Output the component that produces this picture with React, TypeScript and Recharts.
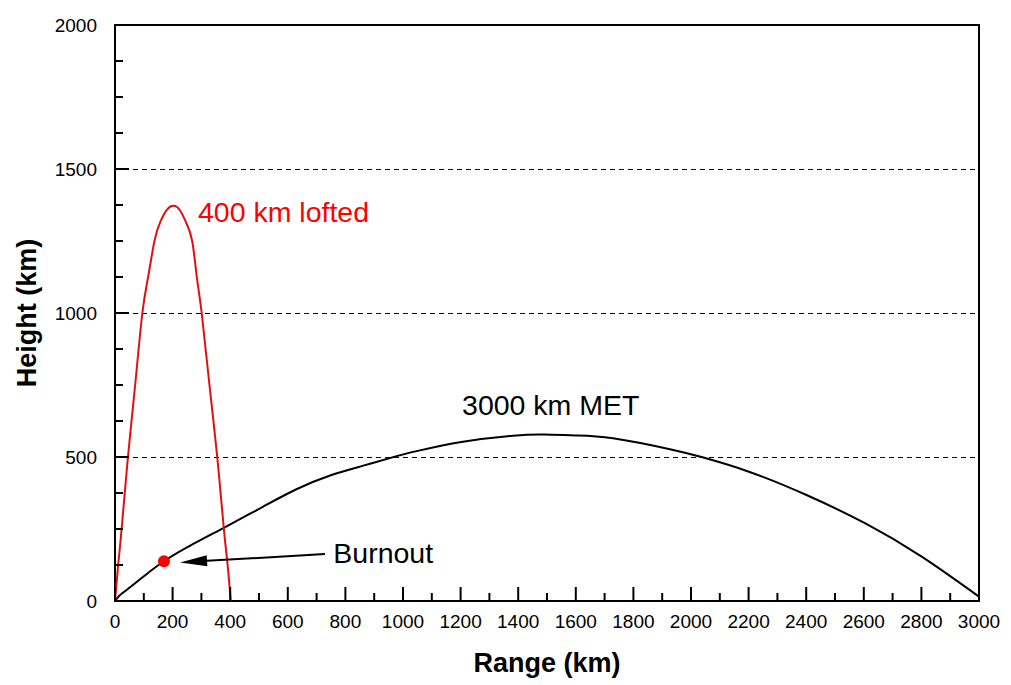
import React from 'react';
import { LineChart, Line, XAxis, YAxis, ReferenceLine, ReferenceArea, ReferenceDot } from 'recharts';

// tick values (minor + major)
const xTicks = [0, 100, 200, 300, 400, 500, 600, 700, 800, 900, 1000, 1100, 1200, 1300, 1400, 1500, 1600, 1700, 1800, 1900, 2000, 2100, 2200, 2300, 2400, 2500, 2600, 2700, 2800, 2900, 3000];
const yTicks = [0, 125, 250, 375, 500, 625, 750, 875, 1000, 1125, 1250, 1375, 1500, 1625, 1750, 1875, 2000];
const gridLevels = [500, 1000, 1500];

// 3000 km MET trajectory
const metRange = [0, 15, 40, 98, 170, 272, 376, 469, 515, 630, 747, 862, 978, 1059, 1208, 1382, 1490, 1600, 1729, 1927, 2043, 2201, 2401, 2604, 2801, 3000];
const metHeight = [0, 18, 38, 84, 138, 198, 253, 303, 328, 388, 436, 470, 503, 523, 553, 574, 578, 575, 565, 527, 498, 449, 368, 270, 154, 15];

// 400 km lofted trajectory
const loftRange = [0, 11, 23, 45, 70, 95, 115, 137, 158, 180, 203, 226, 247, 268, 284, 301, 328, 355, 378, 391, 402];
const loftHeight = [0, 125, 250, 500, 750, 1000, 1125, 1250, 1318, 1358, 1372, 1356, 1314, 1250, 1125, 1000, 750, 500, 250, 125, 0];

const burnout = { range: 170, height: 138 };
const burnoutArrow = { fromRange: 729, fromHeight: 163, toRange: 226, toHeight: 134 };

const metData = metRange.map((r, i) => ({ x: r, y: metHeight[i] }));
const loftData = loftRange.map((r, i) => ({ x: r, y: loftHeight[i] }));

const FONT = '"Liberation Sans", Arial, sans-serif';

const XTick = (props: any) => {
  const { x, y, payload } = props;
  const major = payload.value % 200 === 0;
  return (
    <g>
      <line x1={x} x2={x} y1={y} y2={y - (major ? 14 : 8)} stroke="#000" strokeWidth={2} />
      {major && (
        <text x={x} y={y + 27} textAnchor="middle" fontSize={19} fontFamily={FONT} fill="#000">
          {payload.value}
        </text>
      )}
    </g>
  );
};

const YTick = (props: any) => {
  const { x, y, payload } = props;
  const major = payload.value % 500 === 0;
  return (
    <g>
      <line x1={x} x2={x + (major ? 14 : 8)} y1={y} y2={y} stroke="#000" strokeWidth={2} />
      {major && (
        <text x={x - 18} y={y + 7} textAnchor="end" fontSize={19} fontFamily={FONT} fill="#000">
          {payload.value}
        </text>
      )}
    </g>
  );
};

const Arrow = (props: any) => {
  const { x1, y1, x2, y2 } = props;
  const dx = x2 - x1;
  const dy = y2 - y1;
  const len = Math.sqrt(dx * dx + dy * dy);
  const ux = dx / len;
  const uy = dy / len;
  const bx = x2 - ux * 27;
  const by = y2 - uy * 27;
  const w = 5.5;
  return (
    <g>
      <line x1={x1} y1={y1} x2={bx} y2={by} stroke="#000" strokeWidth={2} />
      <polygon
        points={`${x2},${y2} ${bx - uy * w},${by + ux * w} ${bx + uy * w},${by - ux * w}`}
        fill="#000"
      />
    </g>
  );
};

const textLabel = (text: string, color: string) => (props: any) => {
  const { viewBox } = props;
  return (
    <text x={viewBox.x} y={viewBox.y} fontSize={28.5} fontFamily={FONT} fill={color}>
      {text}
    </text>
  );
};

const App = () => {
  return (
    <div style={{ position: 'absolute', left: 0, top: 0, background: '#fff' }}>
      <LineChart width={1011} height={685} margin={{ top: 25, right: 32, left: 0, bottom: 0 }}>
        <XAxis
          type="number"
          dataKey="x"
          domain={[0, 3000]}
          ticks={xTicks}
          interval={0}
          tickSize={0}
          tickMargin={0}
          tickLine={false}
          axisLine={false}
          height={84}
          tick={<XTick />}
          label={{
            content: (p: any) => (
              <text
                x={p.viewBox.x + p.viewBox.width / 2}
                y={672}
                textAnchor="middle"
                fontSize={27}
                fontWeight="bold"
                fontFamily={FONT}
                fill="#000"
              >
                Range (km)
              </text>
            ),
          }}
        />
        <YAxis
          type="number"
          dataKey="y"
          domain={[0, 2000]}
          ticks={yTicks}
          interval={0}
          tickSize={0}
          tickMargin={0}
          tickLine={false}
          axisLine={false}
          width={115}
          tick={<YTick />}
          label={{
            content: (p: any) => {
              const cx = 36;
              const cy = p.viewBox.y + p.viewBox.height / 2;
              return (
                <text
                  x={cx}
                  y={cy}
                  transform={`rotate(-90 ${cx} ${cy})`}
                  textAnchor="middle"
                  fontSize={27}
                  fontWeight="bold"
                  fontFamily={FONT}
                  fill="#000"
                >
                  Height (km)
                </text>
              );
            },
          }}
        />
        {gridLevels.map((v) => (
          <ReferenceLine
            key={v}
            y={v}
            stroke="#000"
            strokeWidth={1}
            strokeDasharray="5 4"
            shapeRendering="crispEdges"
          />
        ))}
        <ReferenceArea x1={0} x2={3000} y1={0} y2={2000} fill="none" stroke="#000" strokeWidth={2} />
        <Line
          data={metData}
          dataKey="y"
          type="natural"
          stroke="#000"
          strokeWidth={2}
          dot={false}
          isAnimationActive={false}
        />
        <Line
          data={loftData}
          dataKey="y"
          type="natural"
          stroke="#e01010"
          strokeWidth={2}
          dot={false}
          isAnimationActive={false}
        />
        <ReferenceLine
          segment={[
            { x: burnoutArrow.fromRange, y: burnoutArrow.fromHeight },
            { x: burnoutArrow.toRange, y: burnoutArrow.toHeight },
          ]}
          shape={<Arrow />}
        />
        <ReferenceDot x={burnout.range} y={burnout.height} r={6} fill="#ff0000" stroke="none" />
        <ReferenceDot x={288} y={1317} r={0} fill="none" stroke="none" label={textLabel('400 km lofted', '#ff0000')} />
        <ReferenceDot x={1205} y={646} r={0} fill="none" stroke="none" label={textLabel('3000 km MET', '#000')} />
        <ReferenceDot x={758} y={131} r={0} fill="none" stroke="none" label={textLabel('Burnout', '#000')} />
      </LineChart>
    </div>
  );
};

export default App;
